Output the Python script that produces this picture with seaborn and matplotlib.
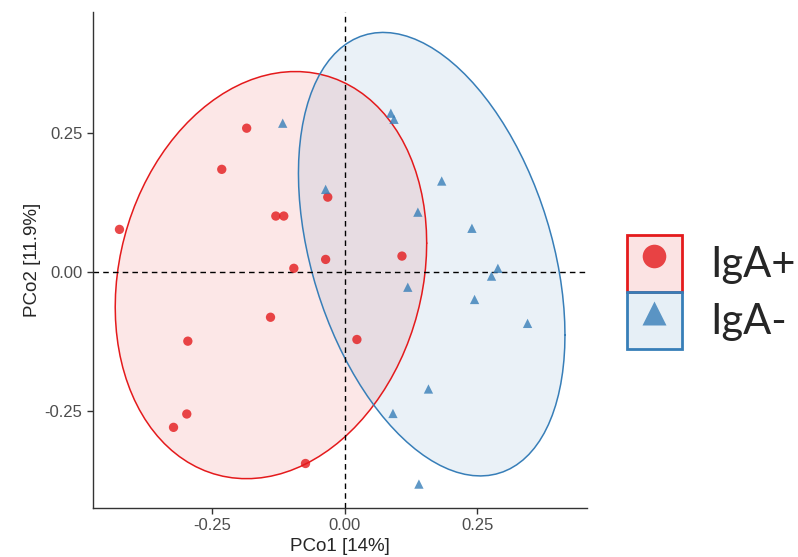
import numpy as np
import pandas as pd
import matplotlib
matplotlib.use("Agg")
import matplotlib.pyplot as plt
import seaborn as sns
from matplotlib.patches import Patch
from matplotlib.lines import Line2D
from matplotlib.legend_handler import HandlerTuple

# PCoA coordinates
iga_pos_x = [-0.185, -0.232, -0.130, -0.115, -0.425, -0.032, -0.036, -0.096,
             0.108, -0.140, -0.296, -0.298, -0.323, -0.074, 0.023]
iga_pos_y = [0.259, 0.185, 0.101, 0.101, 0.077, 0.135, 0.023, 0.007,
             0.029, -0.081, -0.124, -0.255, -0.279, -0.344, -0.121]
iga_neg_x = [-0.117, -0.036, 0.087, 0.093, 0.183, 0.138, 0.240, 0.289,
             0.277, 0.119, 0.245, 0.345, 0.158, 0.091, 0.140]
iga_neg_y = [0.268, 0.149, 0.286, 0.275, 0.164, 0.108, 0.079, 0.007,
             -0.007, -0.027, -0.049, -0.092, -0.210, -0.254, -0.381]

groups = ["IgA+", "IgA-"]
colors = {"IgA+": "#E41A1C", "IgA-": "#377EB8"}
markers = {"IgA+": "o", "IgA-": "^"}
ticks = [-0.25, 0.0, 0.25]

df = pd.DataFrame({
    "PCo1": iga_pos_x + iga_neg_x,
    "PCo2": iga_pos_y + iga_neg_y,
    "group": ["IgA+"] * len(iga_pos_x) + ["IgA-"] * len(iga_neg_x),
})


def cov_trob(x, nu=5, maxit=25, tol=0.01):
    # robust t covariance like MASS::cov.trob
    n, p = x.shape
    w = np.ones(n)
    loc = x.mean(axis=0)
    for _ in range(maxit):
        w0 = w
        X = x - loc
        S = (w[:, None] * X).T @ X / w.sum()
        Q = np.einsum("ij,jk,ik->i", X, np.linalg.inv(S), X)
        w = (nu + p) / (nu + Q)
        loc = (w[:, None] * x).sum(axis=0) / w.sum()
        if np.all(np.abs(w - w0) < tol):
            break
    X = x - loc
    cov = (w[:, None] * X).T @ X / n
    return loc, cov


def ellipse_path(x, level=0.9, segments=100):
    # same construction as ggplot2 stat_ellipse(type="t")
    n = len(x)
    loc, cov = cov_trob(x)
    dfd = n - 1
    fq = (dfd / 2) * ((1 - level) ** (-2 / dfd) - 1)  # qf(level, 2, dfd)
    radius = np.sqrt(2 * fq)
    theta = np.linspace(0, 2 * np.pi, segments + 1)
    unit = np.column_stack([np.cos(theta), np.sin(theta)])
    chol = np.linalg.cholesky(cov).T
    return loc + radius * unit @ chol


sns.set_style("white")
plt.rcParams["font.family"] = ["Liberation Sans", "DejaVu Sans"]

fig = plt.figure(figsize=(7.98, 5.57), dpi=100)
ax = fig.add_axes([0.1165, 0.088, 0.619, 0.8905])

for g in groups:
    sub = df[df["group"] == g][["PCo1", "PCo2"]].to_numpy()
    e = ellipse_path(sub)
    ax.fill(e[:, 0], e[:, 1], color=colors[g], alpha=0.1, lw=0)
    ax.plot(e[:, 0], e[:, 1], color=colors[g], lw=1.1)

ax.axhline(0, color="black", ls=(0, (4, 3)), lw=1)
ax.axvline(0, color="black", ls=(0, (4, 3)), lw=1)

sns.scatterplot(data=df, x="PCo1", y="PCo2", hue="group", style="group",
                palette=colors, markers=markers, s=45, alpha=0.8,
                edgecolor="none", legend=False, ax=ax, zorder=3)

ax.set_xlim(-0.475, 0.457)
ax.set_ylim(-0.424, 0.468)
ax.set_xticks(ticks)
ax.set_yticks(ticks)
ax.set_xticklabels([f"{t:.2f}" for t in ticks])
ax.set_yticklabels([f"{t:.2f}" for t in ticks])
ax.tick_params(axis="both", colors="#333333", labelcolor="#4D4D4D",
               labelsize=12, length=4, width=1, direction="out",
               bottom=True, left=True)
ax.set_xlabel("PCo1 [14%]", fontsize=13.5, labelpad=3)
ax.set_ylabel("PCo2 [11.9%]", fontsize=13.5, labelpad=3)
sns.despine(ax=ax)
for side in ["left", "bottom"]:
    ax.spines[side].set_color("#333333")
    ax.spines[side].set_linewidth(1)

handles = []
for g in groups:
    box = Patch(facecolor=matplotlib.colors.to_rgba(colors[g], 0.12),
                edgecolor=colors[g], lw=2)
    mk = Line2D([], [], marker=markers[g], color=colors[g], alpha=0.8,
                ls="", ms=17, mec="none")
    handles.append((box, mk))

fig.legend(handles, groups, loc="center left", bbox_to_anchor=(0.759, 0.476),
           frameon=False, handlelength=1.32, handleheight=1.73,
           labelspacing=0.0, handletextpad=0.7, borderpad=0,
           prop={"family": ["Lato", "DejaVu Sans"], "size": 30},
           handler_map={tuple: HandlerTuple(ndivide=1, pad=0)})

fig.savefig("out.png", dpi=100)
